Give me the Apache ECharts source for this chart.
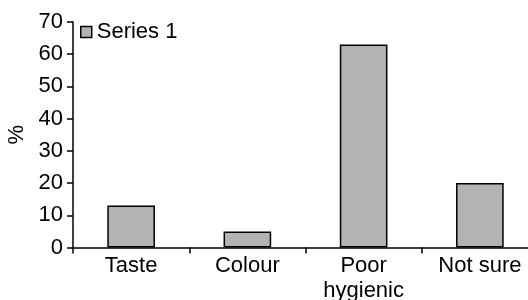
<!DOCTYPE html>
<html><head><meta charset="utf-8">
<script src="https://cdn.jsdelivr.net/npm/echarts@6/dist/echarts.min.js"></script>
<style>html,body{margin:0;padding:0;background:#fff}#c{width:528px;height:300px}</style>
</head><body><div id="c"></div>
<script>
const categories = ['Taste', 'Colour', 'Poor\nhygienic', 'Not sure'];
const series1 = [13, 5, 63, 20];
const yTicks = [0, 10, 20, 30, 40, 50, 60, 70];

const chart = echarts.init(document.getElementById('c'), null, {renderer: 'canvas'});
const font = 'Liberation Sans, Arial, sans-serif';
chart.setOption({
  animation: false,
  grid: {left: 73, right: -10, top: 22, bottom: 52.5, containLabel: false, outerBoundsMode: 'none'},
  legend: {
    show: true, left: 75, top: 16, itemWidth: 11, itemHeight: 11, itemGap: 5,
    data: [{name: 'Series 1', icon: 'rect'}],
    textStyle: {fontFamily: font, fontSize: 22, color: '#000'},
    itemStyle: {borderColor: '#000', borderWidth: 1.5}
  },
  xAxis: {
    type: 'category', data: categories,
    axisLine: {lineStyle: {color: '#000', width: 1.5}},
    axisTick: {show: true, length: 6, lineStyle: {color: '#000', width: 1.5}, alignWithLabel: false},
    axisLabel: {fontFamily: font, fontSize: 22, color: '#000', margin: 6, lineHeight: 25, interval: 0}
  },
  yAxis: {
    type: 'value', min: yTicks[0], max: yTicks[yTicks.length - 1], interval: 10,
    name: '%', nameLocation: 'middle', nameGap: 42, nameRotate: 90,
    nameTextStyle: {fontFamily: font, fontSize: 22, color: '#000'},
    axisLine: {show: true, lineStyle: {color: '#000', width: 1.5}},
    axisTick: {show: true, length: 6, lineStyle: {color: '#000', width: 1.5}},
    axisLabel: {fontFamily: font, fontSize: 22, color: '#000', margin: 10},
    splitLine: {show: false}
  },
  series: [{
    name: 'Series 1', type: 'bar', data: series1, barWidth: '41%',
    itemStyle: {color: '#b3b3b3', borderColor: '#000', borderWidth: 1.5}
  }]
});
</script></body></html>
